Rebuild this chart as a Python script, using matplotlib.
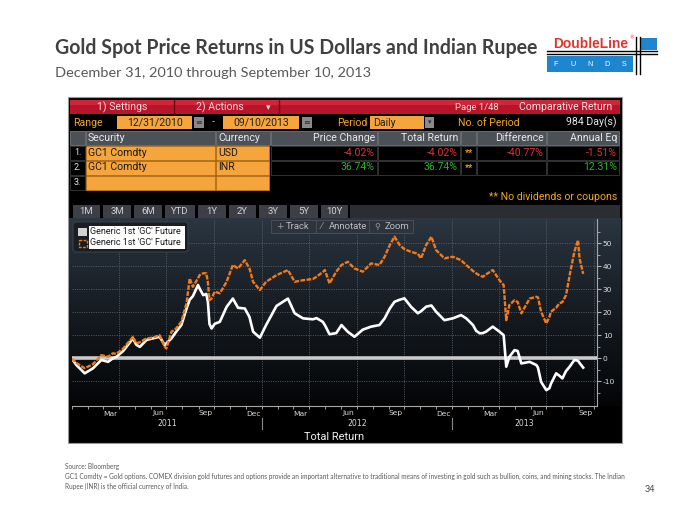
import matplotlib
matplotlib.use('Agg')
import matplotlib.pyplot as plt
import matplotlib.dates as mdates
import matplotlib.transforms as mtransforms
from matplotlib.patches import Rectangle, FancyBboxPatch
import numpy as np
import pandas as pd

# ---------------- data ----------------
dates = ['2010-12-31', '2011-01-09', '2011-01-25', '2011-02-10', '2011-02-26', '2011-03-11',
         '2011-03-20', '2011-03-27', '2011-04-09', '2011-04-28', '2011-05-04', '2011-05-11',
         '2011-05-24', '2011-06-05', '2011-06-18', '2011-06-28', '2011-07-01', '2011-07-11',
         '2011-07-20', '2011-07-30', '2011-08-09', '2011-08-15', '2011-08-21', '2011-08-31',
         '2011-09-03', '2011-09-10', '2011-09-16', '2011-09-19', '2011-09-22', '2011-09-26',
         '2011-10-02', '2011-10-12', '2011-10-25', '2011-11-06', '2011-11-16', '2011-11-29',
         '2011-12-08', '2011-12-15', '2011-12-28', '2012-01-09', '2012-01-29', '2012-02-20',
         '2012-03-04', '2012-03-20', '2012-04-08', '2012-04-15', '2012-04-27', '2012-05-01',
         '2012-05-10', '2012-05-23', '2012-06-02', '2012-06-14', '2012-06-27', '2012-07-13',
         '2012-07-29', '2012-08-14', '2012-08-24', '2012-09-03', '2012-09-12', '2012-09-22',
         '2012-10-01', '2012-10-14', '2012-10-27', '2012-11-02', '2012-11-12', '2012-11-22',
         '2012-12-01', '2012-12-17', '2013-01-02', '2013-01-18', '2013-01-28', '2013-02-10',
         '2013-02-16', '2013-02-23', '2013-03-01', '2013-03-07', '2013-03-20', '2013-04-02',
         '2013-04-10', '2013-04-15', '2013-04-21', '2013-05-01', '2013-05-07', '2013-05-14',
         '2013-05-30', '2013-06-12', '2013-06-15', '2013-06-21', '2013-07-01', '2013-07-07',
         '2013-07-10', '2013-07-20', '2013-07-26', '2013-08-01', '2013-08-08', '2013-08-15',
         '2013-08-24', '2013-08-31', '2013-09-03', '2013-09-10']

usd_return = [0.0, -2.9, -6.5, -4.3, -0.7, -1.5, 0.0, 0.7, 3.2, 8.7, 6.0, 5.0,
              8.0, 8.7, 9.4, 5.8, 6.5, 8.7, 11.6, 14.5, 21.7, 25.5, 27.0, 31.9,
              30.4, 27.5, 28.0, 24.6, 15.0, 13.0, 15.0, 15.9, 22.4, 26.0, 22.0, 21.7,
              18.0, 11.6, 9.0, 14.5, 22.8, 26.0, 19.6, 17.4, 17.0, 17.5, 15.9, 14.5,
              10.5, 11.0, 14.5, 11.6, 9.4, 12.5, 13.8, 14.5, 17.4, 21.7, 24.6, 25.5,
              26.1, 22.4, 19.6, 20.5, 22.5, 23.0, 20.3, 16.6, 17.4, 18.8, 17.4, 14.5,
              12.0, 10.9, 11.0, 11.6, 13.8, 11.6, 10.1, -3.6, 0.7, 3.6, 3.2, -2.2,
              -1.5, -2.9, -4.0, -10.2, -13.8, -13.0, -11.0, -6.5, -7.5, -8.7, -5.5, -3.6,
              -0.7, -1.0, -2.0, -4.02]

inr_return = [0.0, -2.0, -4.3, -2.5, 1.4, 0.7, 2.2, 2.0, 4.3, 9.4, 6.5, 7.0,
              8.7, 9.0, 10.1, 5.0, 4.3, 11.6, 13.0, 16.0, 24.0, 34.8, 31.1, 34.8,
              36.2, 37.0, 37.0, 33.0, 25.3, 26.0, 29.0, 28.3, 33.3, 40.6, 39.1, 42.7,
              39.1, 33.3, 29.7, 33.3, 36.2, 38.4, 33.3, 34.0, 34.5, 35.5, 37.5, 38.4,
              32.6, 37.7, 40.6, 42.0, 39.1, 37.7, 41.3, 40.6, 44.2, 49.3, 52.9, 49.3,
              47.5, 46.3, 45.5, 43.5, 49.3, 52.9, 47.1, 43.5, 44.2, 42.7, 40.6, 38.0,
              37.0, 36.0, 35.5, 36.5, 38.4, 34.0, 31.9, 16.6, 23.2, 25.3, 24.5, 19.6,
              26.0, 26.8, 26.5, 20.3, 15.2, 18.0, 20.3, 22.0, 23.9, 24.5, 27.5, 36.2,
              46.3, 51.4, 43.5, 36.74]

y_ticks = [-10, 0, 10, 20, 30, 40, 50]
month_labels = ['Mar', 'Jun', 'Sep', 'Dec']
period_buttons = ['1M', '3M', '6M', 'YTD', '1Y', '2Y', '3Y', '5Y', '10Y']
table_headers = ['Security', 'Currency', 'Price Change', 'Total Return', 'Difference', 'Annual Eq']
securities = ['GC1 Comdty', 'GC1 Comdty']
currencies = ['USD', 'INR']
price_change = ['-4.02%', '36.74%']
total_return = ['-4.02%', '36.74%']
difference = ['-40.77%', '']
annual_eq = ['-1.51%', '12.31%']
legend_labels = ["Generic 1st 'GC' Future", "Generic 1st 'GC' Future"]

title = 'Gold Spot Price Returns in US Dollars and Indian Rupee'
subtitle = 'December 31, 2010 through September 10, 2013'
source_note = 'Source: Bloomberg'
footnote_1 = ('GC1 Comdty = Gold options. COMEX division gold futures and options provide an important '
              'alternative to traditional means of investing in gold such as bullion, coins, and mining stocks. The Indian')
footnote_2 = 'Rupee (INR) is the official currency of India.'
page_number = '34'

# ---------------- figure / helpers ----------------
W, H = 700, 525
fig = plt.figure(figsize=(7, 5.25), dpi=100, facecolor='white')
bg = fig.add_axes([0, 0, 1, 1])
bg.axis('off')

UI_FONT = ['Liberation Sans Narrow', 'Roboto', 'DejaVu Sans']
SLIDE_FONT = ['Lato', 'DejaVu Sans']
PT = 0.72
ORANGE_CELL = '#f6a53c'
AMBER = '#f5a623'
RED_TXT = '#e0322c'
GREEN_TXT = '#28b428'
LINE_ORANGE = '#f27a18'


def rect(a, x0, y0, x1, y1, fc, ec='none', lw=0.0, z=1, **kw):
    a.add_patch(Rectangle((x0, y0), x1 - x0, y1 - y0, facecolor=fc, edgecolor=ec,
                          linewidth=lw, zorder=z, **kw))


def txt(a, x, y, s, px, color, ha='left', va='center', family=UI_FONT, weight='normal', z=6):
    return a.text(x, y, s, fontsize=px * PT, color=color, ha=ha, va=va, family=family,
                  fontweight=weight, zorder=z)


def fit(a, x, y, s, width_px, **kw):
    t = a.text(x, y, s, fontsize=10, **kw)
    r = fig.canvas.get_renderer()
    w = t.get_window_extent(renderer=r).width
    t.set_fontsize(10 * width_px / w)
    return t


# ---------------- slide texts ----------------
fit(bg, 55, 54, title, 482, family=SLIDE_FONT, fontweight='bold', color='#404040',
    ha='left', va='baseline')
fit(bg, 55, 77, subtitle, 316, family=SLIDE_FONT, color='#595959', ha='left', va='baseline')
fn = fit(bg, 65, 476, footnote_1, 562, family=SLIDE_FONT, color='#595959', ha='left', va='center')
fs = fn.get_fontsize()
bg.text(65, 466, source_note, fontsize=fs, family=SLIDE_FONT, color='#595959', ha='left', va='center')
bg.text(65, 486, footnote_2, fontsize=fs, family=SLIDE_FONT, color='#595959', ha='left', va='center')
bg.text(645, 490, page_number, fontsize=6.5, family=SLIDE_FONT, color='#404040', ha='left', va='center')

# ---------------- logo ----------------
fit(bg, 553, 48, 'DoubleLine', 75, family=['Liberation Sans', 'DejaVu Sans'], fontweight='bold',
    color='#e2342f', ha='left', va='baseline')
bg.text(629, 38, '®', fontsize=3.5, color='#e2342f', ha='left', va='center')
bg.plot([547, 657], [51, 51], color='black', lw=1.0, zorder=3)
bg.plot([547, 657], [53.8, 53.8], color='black', lw=1.0, zorder=3)
rect(bg, 547, 55.5, 633, 72, '#1d86cf', z=2)
rect(bg, 641, 38, 657, 50, '#1d86cf', z=2)
bg.plot([636, 636], [37, 74], color='black', lw=1.0, zorder=3)
bg.plot([639.5, 639.5], [37, 74], color='black', lw=1.0, zorder=3)
for lx, ch in zip([556, 573, 590, 607, 624], 'FUNDS'):
    bg.text(lx, 64, ch, fontsize=5.2, color='white', ha='center', va='center',
            family=['Liberation Sans', 'DejaVu Sans'])

# ---------------- Bloomberg frame ----------------
rect(bg, 68, 97, 622, 443, 'black', ec='#9a9a9a', lw=0.8, z=1)

# red bar
rect(bg, 70, 99.5, 620, 114, '#b8142a', z=2)
rect(bg, 70, 99.5, 620, 105, '#d0263a', z=2)
for sx in (174, 279):
    bg.plot([sx, sx], [99.5, 114], color='#6a0810', lw=1.0, zorder=3)
txt(bg, 122, 107, '1) Settings', 10.5, '#f4dede', ha='center')
txt(bg, 220, 107, '2) Actions', 10.5, '#f4dede', ha='center')
txt(bg, 268, 107.5, '▾', 9, '#f4dede', ha='center', family=['DejaVu Sans'])
txt(bg, 455, 107, 'Page 1/48', 9.5, '#f4dede')
txt(bg, 612, 107, 'Comparative Return', 10.5, '#f8e4e4', ha='right')

# range row
ry0, ry1, ryc = 116, 129, 122.5
txt(bg, 73, ryc, 'Range', 10.5, AMBER)
rect(bg, 117, ry0, 192, ry1, ORANGE_CELL, z=2)
txt(bg, 155, ryc, '12/31/2010', 10.5, '#202020', ha='center')
rect(bg, 194, ry0 + 1, 204, ry1 - 1, '#8a8a8a', z=2)
txt(bg, 199, ryc, '≡', 8, '#303030', ha='center', family=['DejaVu Sans'])
txt(bg, 213, ryc, '-', 10.5, AMBER, ha='center')
rect(bg, 223, ry0, 299, ry1, ORANGE_CELL, z=2)
txt(bg, 261, ryc, '09/10/2013', 10.5, '#202020', ha='center')
rect(bg, 302, ry0 + 1, 312, ry1 - 1, '#8a8a8a', z=2)
txt(bg, 307, ryc, '≡', 8, '#303030', ha='center', family=['DejaVu Sans'])
txt(bg, 368, ryc, 'Period', 10.5, AMBER, ha='right')
rect(bg, 370, ry0, 424, ry1, ORANGE_CELL, z=2)
txt(bg, 373, ryc, 'Daily', 10.5, '#202020')
rect(bg, 425, ry0 + 1, 434, ry1 - 1, '#8a8a8a', z=2)
txt(bg, 429.5, ryc, '▾', 7, '#303030', ha='center', family=['DejaVu Sans'])
txt(bg, 458, ryc, 'No. of Period', 10.5, AMBER)
txt(bg, 617, ryc, '984 Day(s)', 10.5, '#e8e8e8', ha='right')

# header row
hy0, hy1, hyc = 131, 144.5, 138
cols = [(70, 85), (86, 215), (216, 270), (271, 377), (378, 460), (461, 476), (477, 546), (547, 619)]
for (c0, c1) in cols:
    rect(bg, c0, hy0, c1, hy1, '#4c5157', ec='#72777d', lw=0.6, z=2)
hdr_pos = [(88, 'left'), (218, 'left'), (375, 'right'), (458, 'right'), (544, 'right'), (617, 'right')]
for (hx, ha), lab in zip(hdr_pos, table_headers):
    txt(bg, hx, hyc, lab, 10.5, '#e8e8e8', ha=ha)

# data rows
rows_y = [(145.5, 159.5), (160.5, 174.5), (175.5, 189.5)]
for i, (y0, y1) in enumerate(rows_y):
    yc = (y0 + y1) / 2
    rect(bg, 70, y0, 85, y1, 'black', ec='#3a3a3a', lw=0.6, z=2)
    txt(bg, 74, yc, f'{i + 1}.', 9, '#e8e8e8')
    rect(bg, 86, y0, 215, y1, ORANGE_CELL, ec='#c07a20', lw=0.6, z=2)
    rect(bg, 216, y0, 269, y1, ORANGE_CELL, ec='#c07a20', lw=0.6, z=2)
    if i < 2:
        for (c0, c1) in cols[3:]:
            rect(bg, c0, y0, c1, y1, 'black', ec='#3a3a3a', lw=0.6, z=2)

for i in range(2):
    y0, y1 = rows_y[i]
    yc = (y0 + y1) / 2
    col = RED_TXT if price_change[i].startswith('-') else GREEN_TXT
    txt(bg, 88, yc, securities[i], 10.5, '#1a1a1a')
    txt(bg, 218, yc, currencies[i], 10.5, '#1a1a1a')
    txt(bg, 375, yc, price_change[i], 10.5, col, ha='right')
    txt(bg, 458, yc, total_return[i], 10.5, col, ha='right')
    txt(bg, 468.5, yc + 1, '**', 9, AMBER, ha='center', weight='bold')
    if difference[i]:
        txt(bg, 544, yc, difference[i], 10.5, RED_TXT, ha='right')
    acol = RED_TXT if annual_eq[i].startswith('-') else GREEN_TXT
    txt(bg, 617, yc, annual_eq[i], 10.5, acol, ha='right')

txt(bg, 617, 197, '** No dividends or coupons', 10.5, AMBER, ha='right')

# period buttons row
rect(bg, 70, 204.5, 620, 218, '#2a2d31', z=2)
btn_edges = [(73, 100), (103, 131), (134, 162), (165, 195), (198, 226),
             (229, 256), (259, 287), (290, 318), (321, 348)]
rect(bg, 70, 204.5, 350, 218, 'black', z=2)
for (b0, b1), lab in zip(btn_edges, period_buttons):
    rect(bg, b0, 205, b1, 218, '#3c4046', z=3)
    txt(bg, (b0 + b1) / 2, 211.5, lab, 9.5, '#cfd2d6', ha='center')

# chart background gradient
n = 256
t = np.linspace(0, 1, n)[:, None] ** 0.85
top_c = np.array([0x2c, 0x37, 0x43]) / 255.0
bot_c = np.array([0x04, 0x05, 0x07]) / 255.0
grad = (top_c * (1 - t) + bot_c * t)[:, None, :]
bg.imshow(grad, extent=[69, 621, 406, 218.5], aspect='auto', zorder=2, interpolation='bilinear')
txt(bg, 334, 437, 'Total Return', 11, '#f0f0f0', ha='center')
bg.set_xlim(0, W)
bg.set_ylim(H, 0)

# ---------------- chart axes ----------------
ax_l, ax_r, ax_t, ax_b = 71.7, 596.7, 219.0, 406.0
ax = fig.add_axes([ax_l / W, 1 - ax_b / H, (ax_r - ax_l) / W, (ax_b - ax_t) / H])
ax.patch.set_visible(False)
x = pd.to_datetime(dates)
x0, x1 = pd.Timestamp('2010-12-31'), pd.Timestamp('2013-10-06')
ax.set_xlim(x0, x1)
ax.set_ylim(-20.7, 60.6)

grid_kw = dict(color='#5c6670', lw=0.6, ls=(0, (1.2, 1.6)), zorder=1)
for v in y_ticks:
    if v != 0:
        ax.axhline(v, **grid_kw)
for q in pd.date_range('2011-04-01', '2013-10-01', freq='QS'):
    ax.axvline(q, **grid_kw)

ax.axhline(0, color='#c9c9c9', lw=2.6, zorder=3)
ax.plot(x, usd_return, color='white', lw=1.9, zorder=4)
ax.plot(x, inr_return, color=LINE_ORANGE, lw=1.7, ls=(0, (2.0, 0.6)), zorder=5)

for s in ('left', 'top'):
    ax.spines[s].set_visible(False)
for s in ('right', 'bottom'):
    ax.spines[s].set_color('#a8a8a8')
    ax.spines[s].set_linewidth(0.8)

ax.yaxis.tick_right()
ax.set_yticks(y_ticks)
ax.set_yticklabels([str(v) for v in y_ticks], family=['DejaVu Sans'])
ax.set_yticks([-15, -5, 5, 15, 25, 35, 45, 55], minor=True)
ax.tick_params(axis='y', which='major', colors='#b0b0b0', labelcolor='#e0e0e0', labelsize=5.4,
               length=3, width=0.8, pad=1.5, direction='out')
ax.tick_params(axis='y', which='minor', colors='#b0b0b0', length=1.8, width=0.6, direction='out')
ax.xaxis.set_major_locator(mdates.MonthLocator())
ax.tick_params(axis='x', which='major', labelbottom=False, colors='#a0a0a0', length=2.5,
               width=0.7, direction='out')

ax_h = ax_b - ax_t
trans = mtransforms.blended_transform_factory(ax.transData, ax.transAxes)
month_y = (ax_b - 413.5) / ax_h
year_y = (ax_b - 423.5) / ax_h
mid_months = pd.date_range('2011-03-01', '2013-09-01', freq='3MS') + pd.Timedelta(days=14)
for i, d in enumerate(mid_months):
    ax.text(d, month_y, month_labels[i % 4], transform=trans, ha='center', va='center',
            fontsize=5.4, color='#d8d8d8', clip_on=False)
year_starts = [x0, pd.Timestamp('2012-01-01'), pd.Timestamp('2013-01-01'), x1]
for i, yl in enumerate(['2011', '2012', '2013']):
    a, b = year_starts[i], year_starts[i + 1]
    ax.text(a + (b - a) / 2, year_y, yl, transform=trans, ha='center', va='center',
            fontsize=5.6, color='#d8d8d8', clip_on=False)
for ys in year_starts[1:3]:
    ax.plot([ys, ys], [(ax_b - 418) / ax_h, (ax_b - 429) / ax_h], transform=trans,
            color='#8a8a8a', lw=0.8, clip_on=False)

# ---------------- foreground overlay: legend + toolbar ----------------
fg = fig.add_axes([0, 0, 1, 1])
fg.axis('off')
fg.patch.set_visible(False)
fg.add_patch(FancyBboxPatch((73, 222), 115, 30, boxstyle='round,pad=0,rounding_size=3',
                            facecolor='#1a1e22', edgecolor='#3a4047', lw=0.8, zorder=2))
rect(fg, 89, 226, 185, 248.5, 'white', z=3)
rect(fg, 78, 228, 87, 236, '#d2d2d2', z=3)
rect(fg, 78.5, 239.5, 86.5, 246.5, 'none', ec=LINE_ORANGE, lw=1.0, z=3, ls=(0, (2, 1)))
txt(fg, 90, 231.5, legend_labels[0], 9, '#1a1a1a')
txt(fg, 90, 242.5, legend_labels[1], 9, '#1a1a1a')

rect(fg, 271, 219.5, 413, 233, '#2f343a', ec='#4c5259', lw=0.6, z=2)
for sx in (316, 369):
    fg.plot([sx, sx], [220, 232.5], color='#4c5259', lw=0.6, zorder=3)
txt(fg, 276, 226.3, '+', 9, '#9aa0a6', family=['DejaVu Sans'])
txt(fg, 286, 226.3, 'Track', 9.5, '#b8bcc0')
txt(fg, 321, 226.3, '⁄', 9, '#9aa0a6', family=['DejaVu Sans'])
txt(fg, 329, 226.3, 'Annotate', 9.5, '#b8bcc0')
txt(fg, 374, 226.3, '⚲', 8, '#9aa0a6', family=['DejaVu Sans'])
txt(fg, 385, 226.3, 'Zoom', 9.5, '#b8bcc0')
fg.set_xlim(0, W)
fg.set_ylim(H, 0)

fig.savefig('out.png', dpi=100, facecolor='white')
